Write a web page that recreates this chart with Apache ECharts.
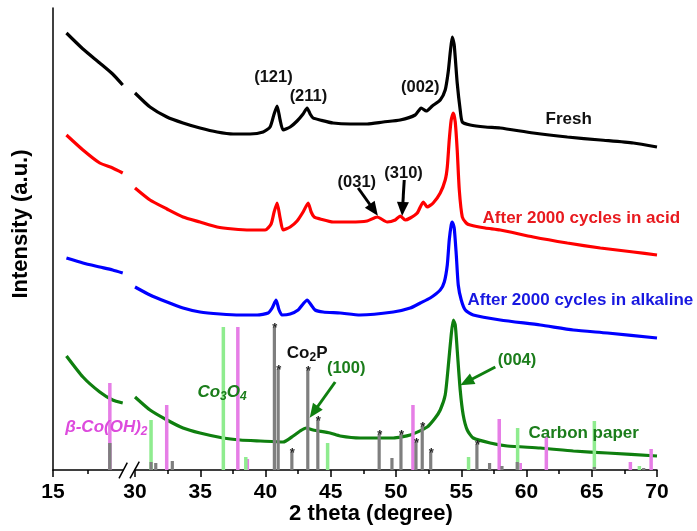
<!DOCTYPE html>
<html><head><meta charset="utf-8">
<script src="https://cdn.jsdelivr.net/npm/echarts@6/dist/echarts.min.js"></script>
<style>html,body{margin:0;padding:0;background:#fff}#c{width:697px;height:531px}</style>
</head><body><div id="c"></div>
<script>
// ---------- DATA ----------
const xTickLabelsLeft = [15];
const xTickLabelsRight = [30, 35, 40, 45, 50, 55, 60, 65, 70];

const freshLeft = [[15.96,437],[17.14,421],[18.34,407],[19.26,396],[19.98,385]];
const freshRight = [[30.0,377],[31.15,363],[32.45,353],[33.68,347],[34.98,342],[36.29,338],[37.52,336],[38.82,336],[39.82,338],[40.35,343],[40.66,356],[40.89,364],[41.12,350],[41.35,340],[41.89,343],[42.42,349],[42.88,356],[43.19,362],[43.42,356],[43.65,352],[44.19,350],[45.18,347],[46.49,346],[47.79,346],[49.02,348],[50.32,350],[51.47,355],[51.93,362],[52.32,359],[52.78,364],[53.39,370],[53.77,380],[54.0,398],[54.16,418],[54.31,433],[54.46,425],[54.69,387],[54.92,360],[55.08,348],[55.69,345],[56.84,343],[57.99,342],[60.52,337],[63.13,333],[65.66,330],[68.19,327],[70.0,323]];

const acidLeft = [[15.96,335],[17.14,320],[18.34,307],[19.26,302],[19.98,297]];
const acidRight = [[30.0,282],[31.15,270],[32.45,261],[33.68,253],[34.98,248],[36.29,243],[37.52,241],[38.82,240],[39.97,240],[40.43,246],[40.66,258],[40.89,267],[41.12,252],[41.35,240],[41.89,243],[42.42,249],[42.88,258],[43.27,267],[43.5,258],[43.73,253],[44.19,251],[45.18,248],[46.49,248],[47.79,249],[48.56,253],[49.33,248],[49.94,250],[50.32,254],[50.71,250],[51.09,252],[51.63,257],[52.09,268],[52.39,263],[52.85,267],[53.39,277],[53.77,290],[53.93,303],[54.08,330],[54.23,350],[54.39,357],[54.54,348],[54.69,320],[54.85,280],[55.08,253],[55.38,247],[55.69,245],[56.84,242],[57.99,240],[60.52,233],[63.13,227],[65.66,222],[68.19,218],[70.0,215]];

const alkLeft = [[15.96,212],[17.14,207],[18.34,203],[19.26,200],[19.98,197]];
const alkRight = [[30.0,183],[31.15,175],[32.45,168],[33.68,162],[34.98,158],[36.52,156],[38.05,155],[39.36,155],[40.2,157],[40.51,162],[40.81,170],[41.04,160],[41.27,155],[41.89,156],[42.5,160],[42.88,166],[43.19,170],[43.5,165],[43.8,160],[44.42,158],[45.72,157],[47.25,155],[49.79,158],[51.09,162],[51.86,167],[52.62,172],[53.39,180],[53.7,188],[53.93,205],[54.08,230],[54.23,245],[54.31,248],[54.46,242],[54.62,215],[54.77,185],[55.0,170],[55.31,160],[55.92,155],[57.99,150],[61.06,145],[63.59,140],[66.2,137],[70.0,132]];

const carbonLeft = [[15.96,114],[17.14,93],[18.34,78],[19.26,70],[19.98,67]];
const carbonRight = [[30.0,73],[31.15,60],[32.45,50],[33.68,42],[34.98,37],[36.75,32],[38.05,30],[39.59,29],[41.35,28],[42.12,34],[42.65,39],[43.11,42],[43.65,40],[44.95,37],[45.72,34],[47.25,32],[49.79,32],[51.09,35],[52.39,43],[53.0,52],[53.39,60],[53.77,75],[54.0,103],[54.23,135],[54.39,150],[54.54,145],[54.69,120],[54.92,80],[55.15,55],[55.46,40],[55.92,32],[57.22,27],[58.53,24],[61.06,22],[63.59,19],[66.2,17],[70.0,14]];

// reference sticks: [2theta, height, asterisk]
const co2pLeft = [[19.06,27,0]];
const co2pRight = [[31.23,8,0],[31.59,7,0],[32.86,9,0],[40.68,143,1],[40.97,101,1],[42.02,18,1],[43.24,100,1],[44.01,50,1],[48.71,36,1],[49.69,12,0],[50.38,36,1],[51.53,28,1],[52.01,44,1],[52.66,18,1],[56.2,26,1],[57.17,7,0],[58.12,4,0],[59.29,8,0],[65.2,3,0],[68.98,2,0]];
const co3o4Right = [[31.23,50],[36.77,143],[38.49,13],[44.76,27],[55.56,13],[59.32,42],[65.2,49],[68.65,4]];
const coOHLeft = [[19.06,87]];
const coOHRight = [[32.43,65],[37.88,143],[38.61,11],[51.3,65],[57.91,51],[59.52,7],[61.52,33],[67.96,8],[69.55,21]];

// arrows: [x1, y1, x2, y2]
const blackArrows = [[47.1,282,48.3,260],[50.63,290,50.5,261]];
const greenArrows = [[45.34,88,43.7,58],[57.61,103,55.4,88]];

// ---------- STYLE / LAYOUT ----------
const F = '"Liberation Sans", Arial, Helvetica, sans-serif';
const C_BLACK = '#000000', C_RED = '#ff0000', C_BLUE = '#0000ff', C_GREEN = '#0f7f0f';
const C_GRAY = '#7f7f7f', C_LGREEN = '#8fec8f', C_PINK = '#e67ee6';

const chart = echarts.init(document.getElementById('c'), null, {renderer: 'canvas'});

function lineSeries(data, color, g, extra) {
  return Object.assign({
    type: 'line', data: data, xAxisIndex: g, yAxisIndex: g,
    showSymbol: false, symbol: 'none', smooth: 0.2, z: 2,
    lineStyle: {color: color, width: 3.2}, itemStyle: {color: color},
    animation: false, silent: true
  }, extra || {});
}

function stickSeries(data, color, w, g, stars) {
  return {
    type: 'custom', xAxisIndex: g, yAxisIndex: g, data: data, z: 4,
    animation: false, silent: true, clip: false,
    encode: {x: 0, y: 1},
    renderItem: function (params, api) {
      const x = api.value(0), h = api.value(1);
      const top = api.coord([x, h]), bot = api.coord([x, 0]);
      const children = [{type: 'rect', shape: {x: top[0] - w / 2, y: top[1], width: w, height: bot[1] - top[1]}, style: {fill: color}}];
      if (stars && api.value(2)) {
        children.push({type: 'text', x: top[0] + 0.5, y: top[1] + 1,
          style: {text: '*', fill: '#222', fontSize: 13, fontWeight: 'bold', fontFamily: F, align: 'center', verticalAlign: 'middle'}});
      }
      return {type: 'group', children: children};
    }
  };
}

function arrowLines(arr, color) {
  const ls = {color: color, width: 3, type: 'solid', opacity: 1};
  return {
    silent: true, animation: false, symbol: ['none', 'triangle'], symbolSize: [12, 14],
    label: {show: false}, lineStyle: ls,
    emphasis: {disabled: true},
    data: arr.map(a => [{coord: [a[0], a[1]], lineStyle: ls}, {coord: [a[2], a[3]], lineStyle: ls}])
  };
}

const axisBase = {
  type: 'value',
  axisLine: {show: true, onZero: false, lineStyle: {color: '#000', width: 1.5}},
  axisTick: {show: true, inside: false, length: 7, lineStyle: {color: '#000', width: 1.5}},
  minorTick: {show: true, splitNumber: 2, length: 4, lineStyle: {color: '#000', width: 1.5}},
  axisLabel: {color: '#000', fontFamily: F, fontWeight: 'bold', fontSize: 21, margin: 12},
  splitLine: {show: false}, minorSplitLine: {show: false}
};

const option = {
  backgroundColor: '#ffffff',
  animation: false,
  grid: [
    {left: 53, top: 8, width: 70, bottom: 61, containLabel: false, outerBoundsMode: 'none'},
    {left: 135, top: 8, width: 522, bottom: 61, containLabel: false, outerBoundsMode: 'none'}
  ],
  xAxis: [
    Object.assign({}, axisBase, {gridIndex: 0, min: 15, max: 20, interval: 5,
      axisTick: Object.assign({}, axisBase.axisTick, {customValues: xTickLabelsLeft}),
      axisLabel: Object.assign({}, axisBase.axisLabel, {customValues: xTickLabelsLeft, showMaxLabel: false})}),
    Object.assign({}, axisBase, {gridIndex: 1, min: 30, max: 70, interval: 5,
      axisLabel: Object.assign({}, axisBase.axisLabel, {formatter: v => (xTickLabelsRight.indexOf(v) >= 0 ? String(v) : '')})})
  ],
  yAxis: [
    {type: 'value', gridIndex: 0, min: 0, max: 462,
      axisLine: {show: true, onZero: false, lineStyle: {color: '#000', width: 1.5}},
      axisTick: {show: false}, axisLabel: {show: false}, splitLine: {show: false}},
    {type: 'value', gridIndex: 1, min: 0, max: 462, show: false,
      axisLine: {show: false}, axisTick: {show: false}, axisLabel: {show: false}, splitLine: {show: false}}
  ],
  series: [
    lineSeries(freshLeft, C_BLACK, 0),
    lineSeries(freshRight, C_BLACK, 1, {markLine: arrowLines(blackArrows, '#000')}),
    lineSeries(acidLeft, C_RED, 0),
    lineSeries(acidRight, C_RED, 1),
    lineSeries(alkLeft, C_BLUE, 0),
    lineSeries(alkRight, C_BLUE, 1),
    lineSeries(carbonLeft, C_GREEN, 0),
    lineSeries(carbonRight, C_GREEN, 1, {markLine: arrowLines(greenArrows, C_GREEN)}),
    stickSeries(coOHLeft, C_PINK, 3.5, 0, false),
    stickSeries(coOHRight, C_PINK, 3.5, 1, false),
    stickSeries(co3o4Right, C_LGREEN, 3.5, 1, false),
    stickSeries(co2pLeft, C_GRAY, 3.5, 0, true),
    stickSeries(co2pRight, C_GRAY, 3.2, 1, true)
  ]
};
chart.setOption(option);

// ---------- ANNOTATIONS (placed in data coordinates) ----------
const T = (size, color, extra) => Object.assign({fontFamily: F, fontWeight: 'bold', fontSize: size, fill: color, align: 'center', verticalAlign: 'middle'}, extra || {});
const annos = [
  {g: 1, x: 40.61, y: 393, text: '(121)', style: T(16.5, '#111')},
  {g: 1, x: 43.29, y: 374, text: '(211)', style: T(16.5, '#111')},
  {g: 1, x: 51.86, y: 383, text: '(002)', style: T(16.5, '#111')},
  {g: 1, x: 63.23, y: 351, text: 'Fresh', style: T(17, '#111')},
  {g: 1, x: 47.0, y: 288, text: '(031)', style: T(16.5, '#111')},
  {g: 1, x: 50.58, y: 297, text: '(310)', style: T(16.5, '#111')},
  {g: 1, x: 64.2, y: 252, text: 'After 2000 cycles in acid', style: T(17, '#e8191e')},
  {g: 1, x: 64.13, y: 170, text: 'After 2000 cycles in alkaline', style: T(17, '#1818e0')},
  {g: 1, x: 64.38, y: 37, text: 'Carbon paper', style: T(17, '#1b7d1b')},
  {g: 1, x: 59.27, y: 110, text: '(004)', style: T(16.5, '#1b7d1b')},
  {g: 1, x: 46.18, y: 102, text: '(100)', style: T(16.5, '#1b7d1b')},
  {g: 1, x: 43.19, y: 117, text: '{n|Co}{s|2}{n|P}', style: T(17, '#111', {rich: {
      n: {fontFamily: F, fontWeight: 'bold', fontSize: 17, fill: '#111', lineHeight: 22, verticalAlign: 'middle'},
      s: {fontFamily: F, fontWeight: 'bold', fontSize: 12, fill: '#111', lineHeight: 12, verticalAlign: 'bottom'}}})},
  {g: 1, x: 36.67, y: 78, text: '{n|Co}{s|3}{n|O}{s|4}', style: T(17, '#1b7d1b', {rich: {
      n: {fontFamily: F, fontWeight: 'bold', fontStyle: 'italic', fontSize: 17, fill: '#1b7d1b', lineHeight: 22, verticalAlign: 'middle'},
      s: {fontFamily: F, fontWeight: 'bold', fontStyle: 'italic', fontSize: 12, fill: '#1b7d1b', lineHeight: 12, verticalAlign: 'bottom'}}})},
  {g: 0, x: 18.81, y: 43, text: '{n|β-Co(OH)}{s|2}', style: T(17, '#dd4bdd', {rich: {
      n: {fontFamily: F, fontWeight: 'bold', fontStyle: 'italic', fontSize: 17, fill: '#dd4bdd', lineHeight: 22, verticalAlign: 'middle'},
      s: {fontFamily: F, fontWeight: 'bold', fontStyle: 'italic', fontSize: 12, fill: '#dd4bdd', lineHeight: 12, verticalAlign: 'bottom'}}})}
];

const graphics = annos.map(a => {
  const p = chart.convertToPixel({gridIndex: a.g}, [a.x, a.y]);
  return {type: 'text', x: p[0], y: p[1], z: 10, silent: true, style: Object.assign({text: a.text}, a.style)};
});
// axis titles and the axis-break marks
graphics.push({type: 'text', x: 371, y: 514, silent: true, style: T(22, '#000', {text: '2 theta (degree)'})});
graphics.push({type: 'text', x: 21, y: 224, rotation: Math.PI / 2, silent: true, style: T(22, '#000', {text: 'Intensity (a.u.)'})});
graphics.push({type: 'line', silent: true, shape: {x1: 119, y1: 478.3, x2: 127.3, y2: 462.7}, style: {stroke: '#000', lineWidth: 1.5}});
graphics.push({type: 'line', silent: true, shape: {x1: 130, y1: 478.3, x2: 139.3, y2: 461.7}, style: {stroke: '#000', lineWidth: 1.5}});
chart.setOption({graphic: graphics});
</script>
</body></html>
